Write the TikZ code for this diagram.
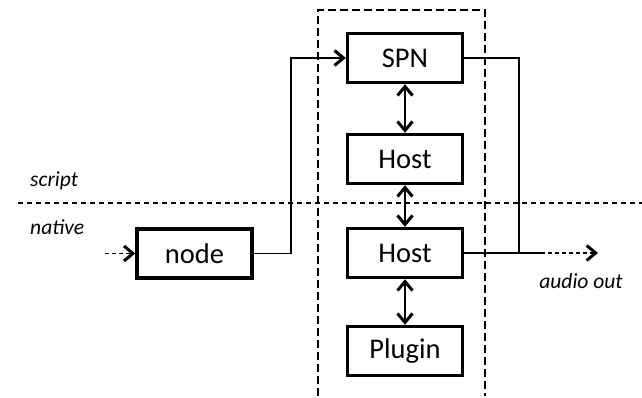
\documentclass[tikz,border=0pt]{standalone}
\usepackage{fontspec}
\setmainfont{Carlito}
\usetikzlibrary{arrows.meta}
\begin{document}
\begin{tikzpicture}[x=1pt,y=-1pt,
  box/.style={draw,line width=3.4pt,minimum width=115pt,minimum height=49pt,inner sep=0pt,font=\fontsize{28.5}{31}\selectfont},
  conn/.style={line width=1.4pt},
  head/.style={-{Straight Barb[length=9pt,width=15pt,line width=3pt]}},
  dhead/.style={{Straight Barb[length=9pt,width=15pt,line width=3pt]}-{Straight Barb[length=9pt,width=15pt,line width=3pt]}},
  sep/.style={line width=1.4pt,dash pattern=on 5pt off 4pt},
  lbl/.style={font=\itshape\fontsize{21.5}{24}\selectfont,inner sep=0pt}]
\useasboundingbox (0,0) rectangle (642,398);
\fill[white] (0,0) rectangle (642,398);
% frame and separator
\draw[line width=1.4pt,dash pattern=on 8pt off 4pt] (318,396) -- (318,10) -- (485,10) -- (485,396);
\draw[sep] (18,203) -- (642,203);
\node[lbl,anchor=west] (script) at (30,181) {script};
\node[lbl,anchor=west] (native) at (30,227) {native};
% boxes
\node[box] (spn) at (405,58) {SPN};
\node[box] (host1) at (405,159) {Host};
\node[box] (host2) at (405,253) {Host};
\node[box] (plugin) at (405,351) {Plugin};
\node[box] (nd) at (194.5,253.5) {node};
% connectors
\coordinate (in) at (105,253.5);
\draw[conn,dash pattern=on 4pt off 3pt,head] (in) -- (nd.west);
\draw[conn,head] (nd.east) -- (291,253.5) |- (spn.west);
\draw[conn,dhead] (spn.south) -- (host1.north);
\draw[conn,dhead] (host1.south) -- (host2.north);
\draw[conn,dhead] (host2.south) -- (plugin.north);
\coordinate (j) at (519,253);
\coordinate (ds) at (541,253);
\coordinate (out) at (598,253);
\draw[conn] (spn.east) -| (j);
\draw[conn] (host2.east) -- (ds);
\draw[conn,dash pattern=on 4pt off 3pt,head] (ds) -- (out);
\node[lbl,anchor=center] (ao) at (581,281) {audio out};
\end{tikzpicture}
\end{document}
